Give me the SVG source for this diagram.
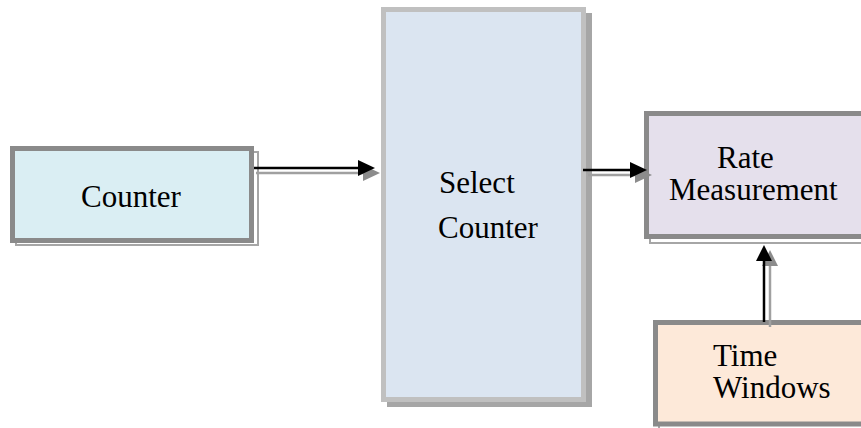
<svg xmlns="http://www.w3.org/2000/svg" width="861" height="428" viewBox="0 0 861 428">
<style>
text{font-family:"Liberation Serif","Times New Roman",serif;font-size:31px;fill:#000}
.box{stroke:#8a8a8a;stroke-width:5}
.shadow{fill:#fff;stroke:#a6a6a6;stroke-width:2}
.ln{stroke:#000;stroke-width:2.5;fill:none}
.sl{stroke:#a0a0a0;stroke-width:2.5;fill:none}
.hd{fill:#000}
.sh{fill:#8c8c8c}
</style>
<rect width="861" height="428" fill="#fff"/>
<g id="counter">
<rect class="shadow" x="16" y="152" width="242" height="93"/>
<rect class="box" x="12.5" y="148.5" width="239" height="92" fill="#daeef3"/>
<text x="81" y="207">Counter</text>
</g>
<g id="select-counter">
<rect x="387" y="13" width="205" height="394" fill="#a6a6a6"/>
<rect x="383.5" y="9.5" width="200" height="390" fill="#dbe5f1" stroke="#c0c0c0" stroke-width="5"/>
<text x="439" y="193">Select</text>
<text x="438" y="238">Counter</text>
</g>
<g id="rate-measurement">
<rect class="shadow" x="650" y="117" width="230" height="126"/>
<rect class="box" x="646.5" y="113.5" width="230" height="123" fill="#e5e0ec"/>
<text x="717" y="168">Rate</text>
<text x="669" y="200">Measurement</text>
</g>
<g id="time-windows">
<rect class="shadow" x="659" y="326" width="220" height="104"/>
<rect class="box" x="655.5" y="322.5" width="220" height="101.5" fill="#fde9d9"/>
<text x="713" y="366">Time</text>
<text x="713" y="398">Windows</text>
</g>
<g id="connectors">
<line class="sl" x1="256" y1="173" x2="366" y2="173"/>
<polygon class="sh" points="363,165 380,173 363,181"/>
<line class="ln" x1="254" y1="168" x2="360" y2="168"/>
<polygon class="hd" points="358,160 375,168 358,176"/>
<line class="sl" x1="588" y1="175" x2="638" y2="175"/>
<polygon class="sh" points="635,167 652,175 635,183"/>
<line class="ln" x1="583" y1="170" x2="633" y2="170"/>
<polygon class="hd" points="630,162 647,170 630,178"/>
<line class="sl" x1="770" y1="327" x2="770" y2="263"/>
<polygon class="sh" points="762,266 770,250 778,266"/>
<line class="ln" x1="764" y1="322" x2="764" y2="258"/>
<polygon class="hd" points="756,261 764,245 772,261"/>
</g>
</svg>
